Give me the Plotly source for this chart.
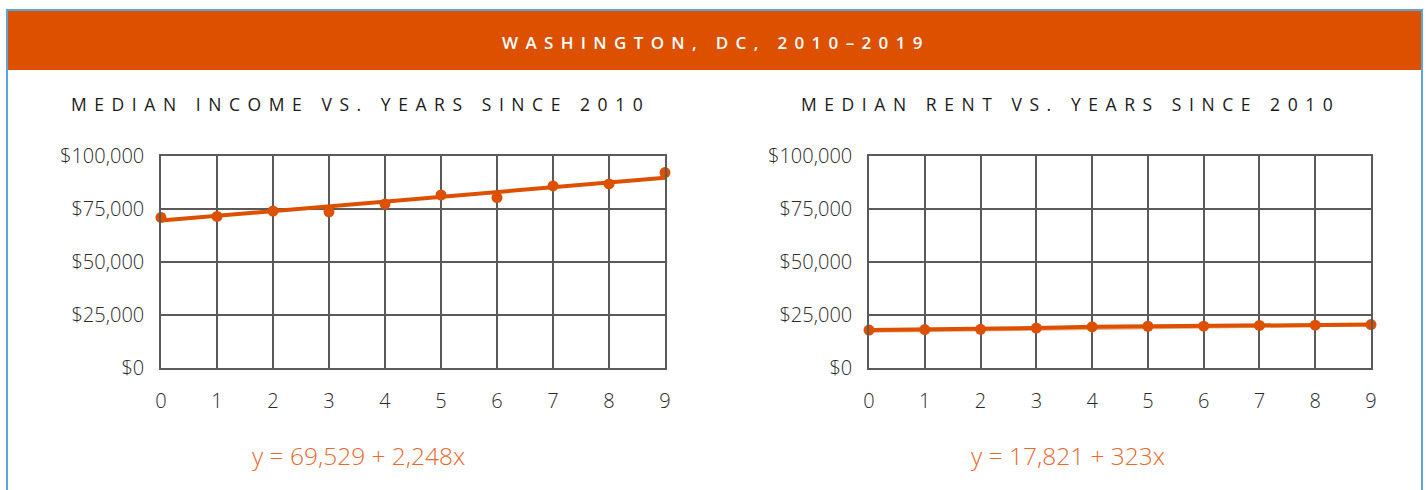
import plotly.graph_objects as go

years = [0, 1, 2, 3, 4, 5, 6, 7, 8, 9]
income = [71000, 71500, 74000, 73700, 77400, 81600, 80400, 85900, 86800, 92200]
rent = [17900, 18150, 18250, 18850, 19400, 19700, 19750, 20100, 20200, 20500]
income_fit = [69529, 2248]   # intercept, slope
rent_fit = [17821, 323]
y_ticks = [0, 25000, 50000, 75000, 100000]
y_labels = ["$0", "$25,000", "$50,000", "$75,000", "$100,000"]
header = "WASHINGTON, DC, 2010–2019"
titles = ["MEDIAN INCOME VS. YEARS SINCE 2010", "MEDIAN RENT VS. YEARS SINCE 2010"]
equations = ["y = 69,529 + 2,248x", "y = 17,821 + 323x"]

ORANGE = "#dc5000"
EQ_ORANGE = "#e8692c"
GRID = "#5a5a5a"
W, H = 1427, 490

def spaced(s, sep="\u2009"):
    return sep.join(list(s))

def px(x):
    return x / W

def py(y):
    return 1 - y / H

fig = go.Figure()

inc_trend = [income_fit[0] + income_fit[1] * x for x in years]
rent_trend = [rent_fit[0] + rent_fit[1] * x for x in years]

fig.add_trace(go.Scatter(x=years, y=inc_trend, mode="lines", line=dict(color=ORANGE, width=4),
                         xaxis="x", yaxis="y", cliponaxis=False, hoverinfo="skip"))
fig.add_trace(go.Scatter(x=years, y=income, mode="markers", marker=dict(color=ORANGE, size=11),
                         xaxis="x", yaxis="y", cliponaxis=False))
fig.add_trace(go.Scatter(x=years, y=[v - 500 for v in rent_trend], mode="lines",
                         line=dict(color="#f2ac82", width=3),
                         xaxis="x2", yaxis="y2", cliponaxis=False, hoverinfo="skip"))
fig.add_trace(go.Scatter(x=years, y=rent, mode="lines+markers", line=dict(color=ORANGE, width=4),
                         marker=dict(color=ORANGE, size=11),
                         xaxis="x2", yaxis="y2", cliponaxis=False))

tickfont = dict(family="Open Sans", size=20, color="#2a2a2a", weight=300)
y_dom = [py(368), py(156)]
common_x = dict(range=[0, 9], tickvals=years, showgrid=True, gridcolor=GRID, gridwidth=1.5,
                showline=True, linecolor=GRID, linewidth=1.5, mirror=True, zeroline=False,
                tickfont=tickfont, ticks="", ticklabelstandoff=14, fixedrange=True,
                automargin=False)
common_y = dict(range=[0, 100000], tickvals=y_ticks, ticktext=y_labels, showgrid=True,
                gridcolor=GRID, gridwidth=1.5, showline=True, linecolor=GRID, linewidth=1.5,
                mirror=True, zeroline=False, tickfont=tickfont, ticks="", ticklabelstandoff=11,
                domain=y_dom, fixedrange=True, automargin=False)

fig.update_layout(
    width=W, height=H, margin=dict(l=0, r=0, t=0, b=0, pad=0, autoexpand=False),
    paper_bgcolor="white", plot_bgcolor="white", showlegend=False,
    xaxis=dict(domain=[px(161), px(665)], anchor="y", **common_x),
    yaxis=dict(anchor="x", **common_y),
    xaxis2=dict(domain=[px(869), px(1371)], anchor="y2", **common_x),
    yaxis2=dict(anchor="x2", **common_y),
)

shapes = [
    dict(type="rect", xref="paper", yref="paper", x0=px(8), x1=px(1421), y0=py(70), y1=py(11),
         fillcolor=ORANGE, line=dict(width=0), layer="below"),
    dict(type="rect", xref="paper", yref="paper", x0=px(7), x1=px(1422), y0=-0.05, y1=py(10),
         fillcolor="rgba(0,0,0,0)", line=dict(color="#5aa5da", width=2)),
]
fig.update_layout(shapes=shapes)

def note(text, x, y, font):
    return dict(text=text, x=px(x), y=py(y), xref="paper", yref="paper", showarrow=False,
                xanchor="center", yanchor="middle", font=font)

SEP_TITLE = "\u2009\u2009\u200a"
SEP_HEAD = "\u2009\u2009\u200a"
ann = [
    note(spaced(header, SEP_HEAD), 712, 42,
         dict(family="Open Sans", size=17, color="white", weight=600)),
    note(spaced(titles[0], SEP_TITLE), 357, 104,
         dict(family="Open Sans", size=17.5, color="#1a1a1a", weight=400)),
    note(spaced(titles[1], SEP_TITLE), 1067, 104,
         dict(family="Open Sans", size=17.5, color="#1a1a1a", weight=400)),
    note(equations[0], 359, 455, dict(family="Open Sans", size=24.5, color=EQ_ORANGE, weight=300)),
    note(equations[1], 1068, 455, dict(family="Open Sans", size=24.5, color=EQ_ORANGE, weight=300)),
]
fig.update_layout(annotations=ann)

fig.write_html("out.html")
